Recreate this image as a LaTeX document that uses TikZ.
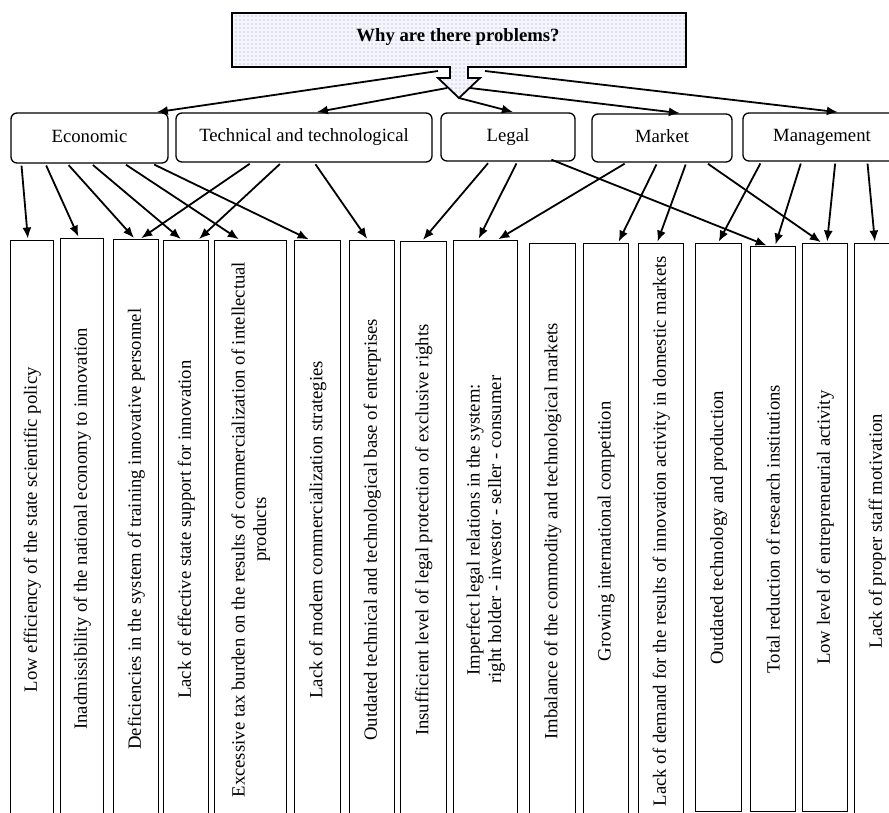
\documentclass[tikz,border=0pt]{standalone}
\usepackage{fontspec}
\setmainfont{Liberation Serif}
\usetikzlibrary{arrows.meta,patterns}
\pgfdeclarepatternformonly{bigdots}{\pgfqpoint{-1pt}{-1pt}}{\pgfqpoint{1pt}{1pt}}{\pgfqpoint{4pt}{4pt}}{\pgfpathcircle{\pgfpointorigin}{.6pt}\pgfusepath{fill}}
\newcommand\fsz{\fontsize{18.7pt}{21.5pt}\selectfont}
\tikzset{
  cat/.style={draw, line width=1.3pt, rounded corners=6pt, inner sep=0pt, font=\fsz, text height=12.5pt, text depth=4pt},
  pbox/.style={draw, line width=1.4pt, inner sep=0pt, anchor=north west},
  ptext/.style={rotate=90, align=center, font=\fsz, inner sep=0pt},
  arr/.style={line width=1.8pt, -{Latex[length=11pt,width=9pt]}, shorten >=1.5pt, shorten <=2pt},
}
\begin{document}
\begin{tikzpicture}[x=1pt,y=-1pt]
\useasboundingbox (0,0) rectangle (889,812);
\clip (0,0) rectangle (889,812);
\fill[white] (0,0) rectangle (889,812);

% title callout
\path[fill=white!96!blue, line width=1.8pt, draw=black]
  (232,13) -- (686,13) -- (686,67) -- (468,67) -- (468,78) -- (480,78) -- (459,98)
  -- (438,78) -- (450,78) -- (450,67) -- (232,67) -- cycle;
\path[pattern=bigdots, pattern color=black!38]
  (233,14) -- (685,14) -- (685,66) -- (467,66) -- (467,79) -- (477,79) -- (459,96)
  -- (441,79) -- (451,79) -- (451,66) -- (233,66) -- cycle;
\node[font=\fsz\bfseries, inner sep=0pt] (title) at (458,37) {Why are there problems?};
\coordinate (s1) at (438,71);
\coordinate (s2) at (447,88);
\coordinate (s3) at (459,98);
\coordinate (s4) at (470,88);
\coordinate (s5) at (485,71);

% categories
\node[cat, minimum width=157pt, minimum height=50pt] (econ) at (89.5,138) {Economic};
\node[cat, minimum width=256pt, minimum height=49pt] (tech) at (304,137.5) {Technical and technological};
\node[cat, minimum width=134pt, minimum height=48pt] (legal) at (508,137) {Legal};
\node[cat, minimum width=140pt, minimum height=48pt] (market) at (662,138) {Market};
\node[cat, minimum width=158pt, minimum height=48pt] (mgmt) at (822,137) {Management};

% problem boxes
\node[pbox, minimum width=43pt, minimum height=578pt] (p1) at (10,240) {};
\node[pbox, minimum width=43pt, minimum height=580pt] (p2) at (60,238) {};
\node[pbox, minimum width=45pt, minimum height=579pt] (p3) at (113,239) {};
\node[pbox, minimum width=45pt, minimum height=578pt] (p4) at (163,240) {};
\node[pbox, minimum width=72pt, minimum height=578pt] (p5) at (214,240) {};
\node[pbox, minimum width=46pt, minimum height=578pt] (p6) at (294,240) {};
\node[pbox, minimum width=45pt, minimum height=578pt] (p7) at (349,240) {};
\node[pbox, minimum width=46pt, minimum height=577pt] (p8) at (400,241) {};
\node[pbox, minimum width=64pt, minimum height=578pt] (p9) at (453,240) {};
\node[pbox, minimum width=46pt, minimum height=575pt] (p10) at (529,243) {};
\node[pbox, minimum width=45pt, minimum height=575pt] (p11) at (583,243) {};
\node[pbox, minimum width=45pt, minimum height=575pt] (p12) at (638,243) {};
\node[pbox, minimum width=46pt, minimum height=568pt] (p13) at (695,243) {};
\node[pbox, minimum width=45pt, minimum height=565pt] (p14) at (750,246) {};
\node[pbox, minimum width=45pt, minimum height=568pt] (p15) at (802,243) {};
\node[pbox, minimum width=45pt, minimum height=575pt] (p16) at (854,243) {};

\node[ptext] (t1) at (p1.center) {Low efficiency of the state scientific policy};
\node[ptext] (t2) at (p2.center) {Inadmissibility of the national economy to innovation};
\node[ptext] (t3) at (p3.center) {Deficiencies in the system of training innovative personnel};
\node[ptext] (t4) at (p4.center) {Lack of effective state support for innovation};
\node[ptext] (t5) at (p5.center) {Excessive tax burden on the results of commercialization of intellectual\\products};
\node[ptext] (t6) at (p6.center) {Lack of modem commercialization strategies};
\node[ptext] (t7) at (p7.center) {Outdated technical and technological base of enterprises};
\node[ptext] (t8) at (p8.center) {Insufficient level of legal protection of exclusive rights};
\node[ptext] (t9) at (p9.center) {Imperfect legal relations in the system:\\right holder - investor - seller - consumer};
\node[ptext] (t10) at (p10.center) {Imbalance of the commodity and technological markets};
\node[ptext] (t11) at (p11.center) {Growing international competition};
\node[ptext] (t12) at (p12.center) {Lack of demand for the results of innovation activity in domestic markets};
\node[ptext] (t13) at (p13.center) {Outdated technology and production};
\node[ptext] (t14) at (p14.center) {Total reduction of research institutions};
\node[ptext] (t15) at (p15.center) {Low level of entrepreneurial activity};
\node[ptext] (t16) at (p16.center) {Lack of proper staff motivation};

% top arrows
\draw[arr, shorten <=0pt] (s1) -- ([xshift=145pt]econ.north west);
\draw[arr, shorten <=0pt] (s2) -- ([xshift=140pt]tech.north west);
\draw[arr, shorten <=0pt] (s3) -- ([xshift=74pt]legal.north west);
\draw[arr, shorten <=0pt] (s4) -- ([xshift=90pt]market.north west);
\draw[arr, shorten <=0pt] (s5) -- ([xshift=97pt]mgmt.north west);

% economic
\draw[arr] ([xshift=11pt]econ.south west) -- ([xshift=18pt]p1.north west);
\draw[arr] ([xshift=35pt]econ.south west) -- ([xshift=19pt]p2.north west);
\draw[arr] ([xshift=57pt]econ.south west) -- ([xshift=22pt]p3.north west);
\draw[arr] ([xshift=81pt]econ.south west) -- ([xshift=19pt]p4.north west);
\draw[arr] ([xshift=114pt]econ.south west) -- ([xshift=26pt]p5.north west);
\draw[arr] ([xshift=142pt]econ.south west) -- ([xshift=16pt]p6.north west);
% technical
\draw[arr] ([xshift=76pt]tech.south west) -- ([xshift=27pt]p3.north west);
\draw[arr] ([xshift=106pt]tech.south west) -- ([xshift=35pt]p4.north west);
\draw[arr] ([xshift=139pt]tech.south west) -- ([xshift=19pt]p7.north west);
% legal
\draw[arr] ([xshift=49pt]legal.south west) -- ([xshift=22pt]p8.north west);
\draw[arr] ([xshift=77pt]legal.south west) -- ([xshift=25pt]p9.north west);
\draw[arr, shorten <=0pt] ([xshift=111pt,yshift=2pt]legal.south west) -- ([xshift=18pt]p14.north west);
% market
\draw[arr] ([xshift=35pt]market.south west) -- ([xshift=44pt]p9.north west);
\draw[arr] ([xshift=66pt]market.south west) -- ([xshift=35pt]p11.north west);
\draw[arr] ([xshift=95pt]market.south west) -- ([xshift=19pt]p12.north west);
\draw[arr] ([xshift=115pt]market.south west) -- ([xshift=20pt]p15.north west);
% management
\draw[arr] ([xshift=19pt]mgmt.south west) -- ([xshift=23pt]p13.north west);
\draw[arr] ([xshift=59pt]mgmt.south west) -- ([xshift=25pt]p14.north west);
\draw[arr] ([xshift=93pt]mgmt.south west) -- ([xshift=25pt]p15.north west);
\draw[arr] ([xshift=125pt]mgmt.south west) -- ([xshift=21pt]p16.north west);
\end{tikzpicture}
\end{document}
